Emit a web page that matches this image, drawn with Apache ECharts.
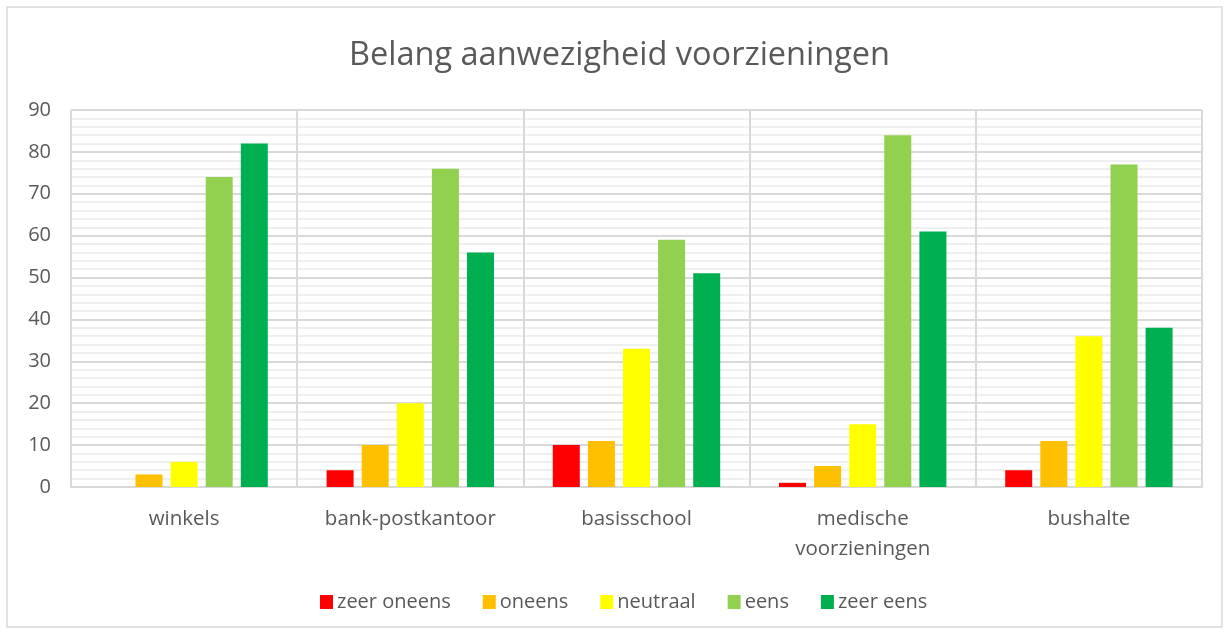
<!DOCTYPE html>
<html>
<head>
<meta charset="utf-8">
<script src="https://cdn.jsdelivr.net/npm/echarts@6/dist/echarts.min.js"></script>
<style>
  html, body { margin: 0; padding: 0; background: #fff; }
  #chart { width: 1229px; height: 633px; }
</style>
</head>
<body>
<div id="chart"></div>
<script>
// categorieen en antwoorden
var categories = ['winkels', 'bank-postkantoor', 'basisschool', 'medische\nvoorzieningen', 'bushalte'];
var zeerOneens = [0, 4, 10, 1, 4];
var oneens = [3, 10, 11, 5, 11];
var neutraal = [6, 20, 33, 15, 36];
var eens = [74, 76, 59, 84, 77];
var zeerEens = [82, 56, 51, 61, 38];
var yTicks = [0, 10, 20, 30, 40, 50, 60, 70, 80, 90];

var font = '"Open Sans", "Noto Sans", sans-serif';
var textColor = '#595959';

function bar(name, data, color) {
  return {
    name: name,
    type: 'bar',
    data: data,
    barWidth: 27,
    barGap: '30%',
    itemStyle: { color: color }
  };
}

var chart = echarts.init(document.getElementById('chart'));
var option = {
  animation: false,
  title: {
    text: 'Belang aanwezigheid voorzieningen',
    left: 344,
    top: 34,
    textStyle: { fontFamily: font, fontSize: 32.5, fontWeight: 'normal', color: textColor }
  },
  graphic: [{
    type: 'rect',
    shape: { x: 7, y: 7, width: 1215, height: 620 },
    style: { fill: 'none', stroke: '#d9d9d9', lineWidth: 1.5 },
    silent: true
  }],
  grid: { left: 71, right: 27, top: 110, bottom: 146 },
  legend: {
    bottom: 16,
    left: 315,
    itemWidth: 13,
    itemHeight: 14,
    itemGap: 32,
    icon: 'rect',
    textStyle: { fontFamily: font, fontSize: 20, color: textColor, padding: [0, 0, 0, -1] },
    data: ['zeer oneens', 'oneens', 'neutraal', 'eens', 'zeer eens']
  },
  xAxis: {
    type: 'category',
    data: categories,
    axisLine: { lineStyle: { color: '#d9d9d9', width: 2 } },
    axisTick: { show: false },
    splitLine: { show: true, interval: 0, lineStyle: { color: '#d9d9d9', width: 2 } },
    axisLabel: { interval: 0, margin: 17, fontFamily: font, fontSize: 20.5, color: textColor, lineHeight: 30 }
  },
  yAxis: {
    type: 'value',
    min: yTicks[0],
    max: yTicks[yTicks.length - 1],
    interval: 10,
    axisLine: { show: false },
    axisTick: { show: false },
    axisLabel: { margin: 20, fontFamily: font, fontSize: 20, color: textColor },
    splitLine: { lineStyle: { color: '#d9d9d9', width: 2 } },
    minorTick: { show: false, splitNumber: 5 },
    minorSplitLine: { show: true, lineStyle: { color: '#efefef', width: 2 } }
  },
  series: [
    bar('zeer oneens', zeerOneens, '#ff0000'),
    bar('oneens', oneens, '#ffc000'),
    bar('neutraal', neutraal, '#ffff00'),
    bar('eens', eens, '#92d050'),
    bar('zeer eens', zeerEens, '#00b050')
  ]
};
chart.setOption(option);
</script>
</body>
</html>
